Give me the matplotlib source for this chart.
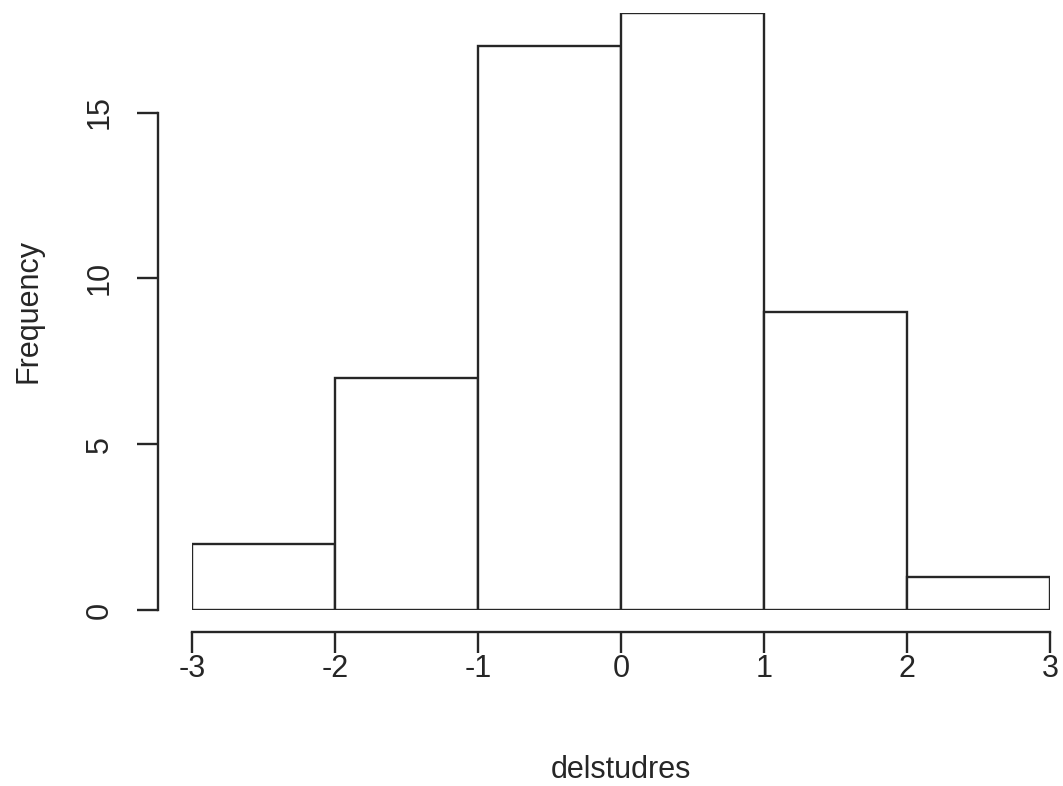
import matplotlib
matplotlib.use("Agg")
import matplotlib.pyplot as plt
import numpy as np

bin_edges = [-3, -2, -1, 0, 1, 2, 3]
counts = [2, 7, 17, 18, 9, 1]
xticks = [-3, -2, -1, 0, 1, 2, 3]
yticks = [0, 5, 10, 15]
xlabel = "delstudres"
ylabel = "Frequency"

plt.rcParams['font.family'] = ['Liberation Sans', 'DejaVu Sans']
W, H = 1063, 786
PX = 72 / 100
fig = plt.figure(figsize=(W/100, H/100), dpi=100)
x0, x1 = 192, 1050
ytop, ybot = 13, 610
ax = fig.add_axes([x0/W, 1 - ybot/H, (x1-x0)/W, (ybot-ytop)/H])
lw = 1.7
col = '#262626'
fs = 22
ax.bar(bin_edges[:-1], counts, width=np.diff(bin_edges), align='edge',
       facecolor='white', edgecolor=col, linewidth=lw)
ax.set_xlim(-3, 3)
ax.set_ylim(0, 18)
for s in ['top', 'right']:
    ax.spines[s].set_visible(False)
ax.spines['bottom'].set_position(('outward', 22*PX))
ax.spines['left'].set_position(('outward', 34*PX))
ax.spines['bottom'].set_bounds(-3, 3)
ax.spines['left'].set_bounds(0, 15)
for s in ['bottom', 'left']:
    ax.spines[s].set_linewidth(lw)
    ax.spines[s].set_color(col)
ax.set_xticks(xticks)
ax.set_yticks(yticks)
ax.set_xticklabels([str(t) for t in xticks])
ax.set_yticklabels([str(t) for t in yticks], rotation=90, va='center')
ax.tick_params(axis='both', length=21*PX, width=lw, color=col, labelsize=fs, labelcolor=col)
ax.tick_params(axis='x', pad=1*PX)
ax.tick_params(axis='y', pad=22*PX)
ax.set_xlabel(xlabel, fontsize=fs, color=col, va='center')
ax.set_ylabel(ylabel, fontsize=fs, color=col, va='center')
ax.xaxis.set_label_coords(0.5*(x0+x1)/W, 1 - 770/H, transform=fig.transFigure)
ax.yaxis.set_label_coords(28/W, 1 - 311/H, transform=fig.transFigure)
ax.patch.set_visible(False)
fig.savefig("out.png", dpi=100)
